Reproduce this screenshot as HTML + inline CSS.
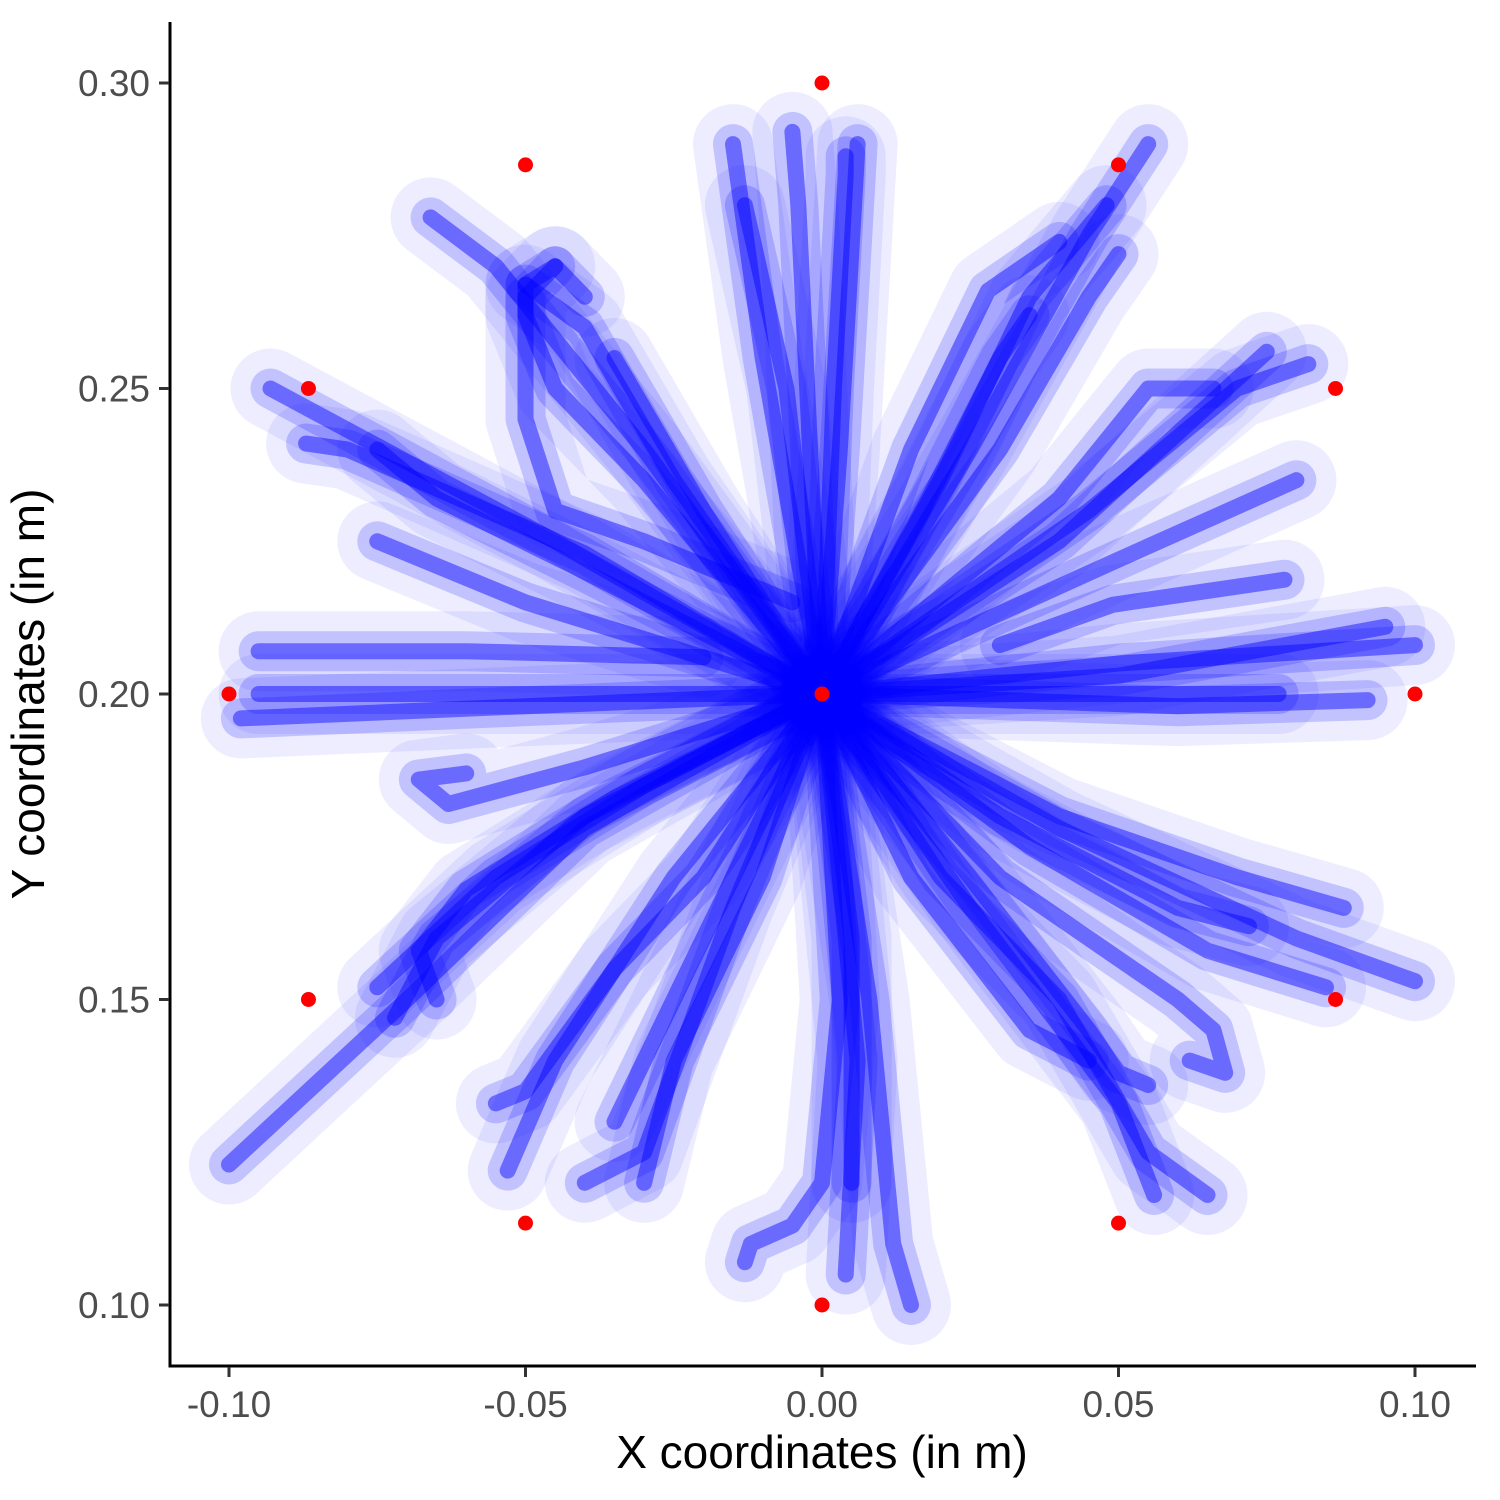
<!DOCTYPE html>
<html><head><meta charset="utf-8"><style>
html,body{margin:0;padding:0;background:#fff;}
svg{display:block;}
.tick{font-family:"Liberation Sans",sans-serif;font-size:37px;fill:#4d4d4d;}
.title{font-family:"Liberation Sans",sans-serif;font-size:46px;fill:#000;}
</style></head><body>
<svg id="chart" width="1500" height="1500" viewBox="0 0 1500 1500" xmlns="http://www.w3.org/2000/svg">
<g id="plot"></g>
<g id="axes"></g>
</svg>
<script>
const xTicks = [-0.10, -0.05, 0.00, 0.05, 0.10];
const xTickLabels = ["-0.10", "-0.05", "0.00", "0.05", "0.10"];
const yTicks = [0.10, 0.15, 0.20, 0.25, 0.30];
const yTickLabels = ["0.10", "0.15", "0.20", "0.25", "0.30"];
const targetX = [0, 0.05, 0.0866, 0.1, 0.0866, 0.05, 0, -0.05, -0.0866, -0.1, -0.0866, -0.05, 0];
const targetY = [0.3, 0.2866, 0.25, 0.2, 0.15, 0.1134, 0.1, 0.1134, 0.15, 0.2, 0.25, 0.2866, 0.2];
const trajectories = [
 [[0,0.2],[-0.002,0.24],[-0.004,0.28],[-0.005,0.292]],
 [[0,0.2],[0.002,0.25],[0.004,0.285],[0.004,0.288]],
 [[0,0.2],[-0.006,0.25],[-0.013,0.28]],
 [[0,0.2],[-0.01,0.255],[-0.015,0.29]],
 [[0,0.2],[0.003,0.24],[0.006,0.29]],
 [[0,0.2],[0.025,0.24],[0.045,0.275],[0.055,0.29]],
 [[0,0.2],[0.02,0.235],[0.035,0.265],[0.048,0.28]],
 [[0,0.2],[0.015,0.24],[0.028,0.266],[0.04,0.274]],
 [[0,0.2],[0.03,0.24],[0.045,0.265],[0.05,0.272]],
 [[0,0.2],[0.018,0.232],[0.03,0.255],[0.035,0.262]],
 [[0,0.2],[0.04,0.225],[0.075,0.256]],
 [[0,0.2],[0.045,0.23],[0.07,0.25],[0.082,0.254]],
 [[0,0.2],[0.05,0.222],[0.08,0.235]],
 [[0,0.2],[0.04,0.232],[0.055,0.25],[0.066,0.25]],
 [[0,0.2],[0.05,0.203],[0.095,0.211]],
 [[0,0.2],[0.05,0.2],[0.077,0.2]],
 [[0,0.2],[0.05,0.205],[0.1,0.208]],
 [[0.03,0.208],[0.049,0.2146],[0.078,0.2187]],
 [[0,0.2],[0.06,0.198],[0.092,0.199]],
 [[0,0.2],[0.04,0.178],[0.08,0.16],[0.1,0.153]],
 [[0,0.2],[0.04,0.18],[0.07,0.17],[0.088,0.165]],
 [[0,0.2],[0.035,0.175],[0.065,0.158],[0.085,0.152]],
 [[0,0.2],[0.03,0.18],[0.06,0.165],[0.072,0.162]],
 [[0,0.2],[0.025,0.17],[0.045,0.145],[0.05,0.138],[0.055,0.136]],
 [[0,0.2],[0.02,0.17],[0.04,0.15],[0.055,0.125],[0.065,0.118]],
 [[0,0.2],[0.025,0.165],[0.05,0.133],[0.056,0.118]],
 [[0,0.2],[0.03,0.17],[0.06,0.15],[0.066,0.145],[0.068,0.138],[0.062,0.14]],
 [[0,0.2],[0.015,0.17],[0.035,0.145],[0.045,0.14]],
 [[0,0.2],[0.005,0.16],[0.005,0.12]],
 [[0,0.2],[0.008,0.15],[0.012,0.11],[0.015,0.1]],
 [[0,0.2],[0.003,0.15],[0,0.12],[-0.005,0.113],[-0.012,0.11],[-0.013,0.107]],
 [[0,0.2],[0.006,0.14],[0.004,0.105]],
 [[0,0.2],[-0.02,0.16],[-0.035,0.13]],
 [[0,0.2],[-0.025,0.17],[-0.045,0.14],[-0.053,0.122]],
 [[0,0.2],[-0.015,0.165],[-0.03,0.125],[-0.04,0.12]],
 [[0,0.2],[-0.02,0.17],[-0.035,0.155],[-0.05,0.135],[-0.055,0.133]],
 [[0,0.2],[-0.01,0.17],[-0.025,0.14],[-0.03,0.12]],
 [[0,0.2],[-0.03,0.185],[-0.055,0.17],[-0.075,0.152]],
 [[0,0.2],[-0.04,0.18],[-0.065,0.16],[-0.072,0.147]],
 [[0,0.2],[-0.04,0.178],[-0.07,0.15],[-0.1,0.123]],
 [[0,0.2],[-0.035,0.183],[-0.06,0.168],[-0.068,0.158],[-0.065,0.15]],
 [[0,0.2],[-0.05,0.198],[-0.098,0.196]],
 [[0,0.2],[-0.05,0.2],[-0.095,0.2]],
 [[-0.02,0.206],[-0.06,0.207],[-0.095,0.207]],
 [[0,0.2],[-0.04,0.188],[-0.063,0.182],[-0.068,0.186],[-0.06,0.187]],
 [[0,0.2],[-0.04,0.223],[-0.08,0.24],[-0.087,0.241]],
 [[0,0.2],[-0.045,0.225],[-0.07,0.238],[-0.093,0.25]],
 [[0,0.2],[-0.04,0.22],[-0.065,0.232],[-0.075,0.24]],
 [[0,0.2],[-0.05,0.215],[-0.075,0.225]],
 [[0,0.2],[-0.02,0.23],[-0.035,0.255]],
 [[0,0.2],[-0.025,0.235],[-0.04,0.26],[-0.05,0.267]],
 [[0,0.2],[-0.03,0.24],[-0.055,0.27],[-0.066,0.278]],
 [[0,0.2],[-0.03,0.235],[-0.045,0.25],[-0.05,0.262],[-0.05,0.267],[-0.045,0.27],[-0.04,0.265]],
 [[-0.005,0.215],[-0.03,0.225],[-0.045,0.23],[-0.05,0.245],[-0.05,0.265],[-0.045,0.27]]
];

const NS = "http://www.w3.org/2000/svg";
const X0 = 822, XS = 5930, Y0 = 694, YS = 6110;
function sx(v){ return X0 + v * XS; }
function sy(v){ return Y0 - (v - 0.2) * YS; }
function mk(tag, attrs, parent){
  const e = document.createElementNS(NS, tag);
  for (const k in attrs) e.setAttribute(k, attrs[k]);
  parent.appendChild(e);
  return e;
}
const plot = document.getElementById("plot");
const axes = document.getElementById("axes");

const layers = [[80, 0.07], [40, 0.18], [16, 0.45]];
layers.forEach(function(L){
  trajectories.forEach(function(t, i){
    const pts = t.map(function(p){ return sx(p[0]).toFixed(1) + "," + sy(p[1]).toFixed(1); }).join(" ");
    const pl = mk("polyline", {points: pts, fill: "none", stroke: "#0000ff", "stroke-width": L[0], "stroke-opacity": L[1], "stroke-linecap": "round", "stroke-linejoin": "round"}, plot);
    
    
  });
});
const blob = mk("circle", {cx: sx(0), cy: sy(0.2), r: 38, fill: "#0000ff"}, plot);



targetX.forEach(function(x, i){
  const c = mk("circle", {cx: sx(x), cy: sy(targetY[i]), r: 7.5, fill: "#ff0000"}, plot);
  
  
});

const yl = mk("line", {x1: 170, y1: 22, x2: 170, y2: 1367.5, stroke: "#000", "stroke-width": 3}, axes);


const xl = mk("line", {x1: 168.5, y1: 1366, x2: 1476, y2: 1366, stroke: "#000", "stroke-width": 3}, axes);



xTicks.forEach(function(v, i){
  const tk = mk("line", {x1: sx(v), y1: 1367, x2: sx(v), y2: 1377, stroke: "#333", "stroke-width": 3}, axes);
  
  
  const tx = mk("text", {x: sx(v), y: 1417, "text-anchor": "middle", class: "tick"}, axes);
  tx.textContent = xTickLabels[i];
  
  
});
yTicks.forEach(function(v, i){
  const tk = mk("line", {x1: 159, y1: sy(v), x2: 169, y2: sy(v), stroke: "#333", "stroke-width": 3}, axes);
  
  
  const tx = mk("text", {x: 150, y: sy(v) + 13, "text-anchor": "end", class: "tick"}, axes);
  tx.textContent = yTickLabels[i];
  
  
});
const xt = mk("text", {x: 822, y: 1468, "text-anchor": "middle", class: "title"}, axes);
xt.textContent = "X coordinates (in m)";


const yt = mk("text", {x: 0, y: 0, "text-anchor": "middle", class: "title", transform: "translate(57,694) rotate(-90)"}, axes);
yt.textContent = "Y coordinates (in m)";


yt.setAttribute('transform', 'translate(44,694) rotate(-90)');
</script>
</body></html>
